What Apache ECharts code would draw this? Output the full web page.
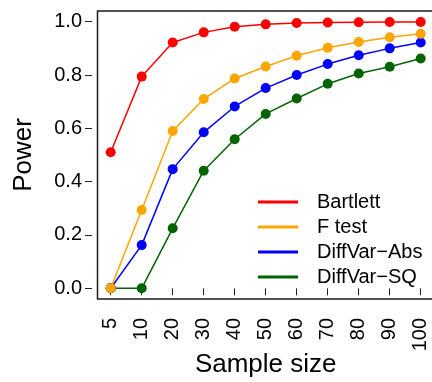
<!DOCTYPE html>
<html>
<head>
<meta charset="utf-8">
<script src="https://cdn.jsdelivr.net/npm/echarts@6/dist/echarts.min.js"></script>
<style>
html,body{margin:0;padding:0;background:#fff;}
#chart{width:432px;height:382px;}
</style>
</head>
<body>
<div id="chart"></div>
<script>
const categories = ['5','10','20','30','40','50','60','70','80','90','100'];
const bartlett   = [0.51, 0.794, 0.922, 0.96, 0.981, 0.99, 0.995, 0.997, 0.998, 0.999, 0.999];
const fTest      = [0.0, 0.294, 0.59, 0.71, 0.787, 0.832, 0.872, 0.902, 0.924, 0.942, 0.955];
const diffVarAbs = [0.0, 0.162, 0.447, 0.585, 0.682, 0.751, 0.800, 0.841, 0.874, 0.900, 0.922];
const diffVarSQ  = [0.0, 0.0, 0.225, 0.441, 0.559, 0.654, 0.712, 0.767, 0.806, 0.831, 0.862];
const yTicks = [0, 0.2, 0.4, 0.6, 0.8, 1.0];

const FONT = 'Liberation Sans';
const chart = echarts.init(document.getElementById('chart'), null, {renderer: 'canvas'});

function mk(name, data, color, z) {
  return {
    name: name, type: 'line', data: data, xAxisIndex: 1, yAxisIndex: 1,
    symbol: 'circle', symbolSize: 10, z: z,
    itemStyle: {color: color},
    lineStyle: {color: color, width: 1.5},
    emphasis: {disabled: true}
  };
}

chart.setOption({
  animation: false,
  backgroundColor: '#fff',
  textStyle: {fontFamily: FONT},
  grid: [
    {left: 97.5, right: -2, top: 11, bottom: 83, show: true, borderColor: '#1a1a1a', borderWidth: 1.5, backgroundColor: 'transparent', z: 10, containLabel: false, outerBoundsMode: 'none'},
    {left: 110.7, right: 11.3, top: 21.7, bottom: 93.7, containLabel: false, outerBoundsMode: 'none'}
  ],
  xAxis: [
    {gridIndex: 0, type: 'value', show: false, min: 0, max: 1},
    {gridIndex: 1, type: 'category', data: categories, boundaryGap: false, offset: 10.7,
     axisLine: {show: false},
     axisTick: {show: true, length: 7, alignWithLabel: true, lineStyle: {color: '#222', width: 1}},
     axisLabel: {rotate: 90, margin: 19, fontSize: 20, color: '#000', fontFamily: FONT, interval: 0},
     splitLine: {show: false},
     name: 'Sample size', nameLocation: 'middle', nameGap: 53, nameMoveOverlap: false,
     nameTextStyle: {fontSize: 26, color: '#000', fontFamily: FONT}}
  ],
  yAxis: [
    {gridIndex: 0, type: 'value', show: false, min: 0, max: 1},
    {gridIndex: 1, type: 'value', min: 0, max: 1, interval: 0.2, offset: 18.7,
     axisLine: {show: false},
     axisTick: {show: true, length: 7, lineStyle: {color: '#222', width: 1}},
     axisLabel: {margin: 10, fontSize: 20, color: '#000', fontFamily: FONT,
       formatter: function (v) { return yTicks.indexOf(Math.round(v*10)/10) >= 0 ? v.toFixed(1) : ''; }},
     splitLine: {show: false},
     name: 'Power', nameLocation: 'middle', nameGap: 55, nameRotate: 90,
     nameTextStyle: {fontSize: 26, color: '#000', fontFamily: FONT}}
  ],
  legend: {
    orient: 'vertical', left: 253, top: 187,
    icon: 'rect', itemWidth: 40, itemHeight: 3, itemGap: 5,
    data: ['Bartlett', 'F test', 'DiffVar\u2212Abs', 'DiffVar\u2212SQ'],
    textStyle: {fontSize: 20, color: '#000', fontFamily: FONT, lineHeight: 20, padding: [0, 0, 0, 14]},
    selectedMode: false
  },
  series: [
    mk('Bartlett', bartlett, '#ff0000', 5),
    mk('F test', fTest, '#ffa500', 4),
    mk('DiffVar\u2212Abs', diffVarAbs, '#0000ff', 3),
    mk('DiffVar\u2212SQ', diffVarSQ, '#006400', 2)
  ]
});
</script>
</body>
</html>
